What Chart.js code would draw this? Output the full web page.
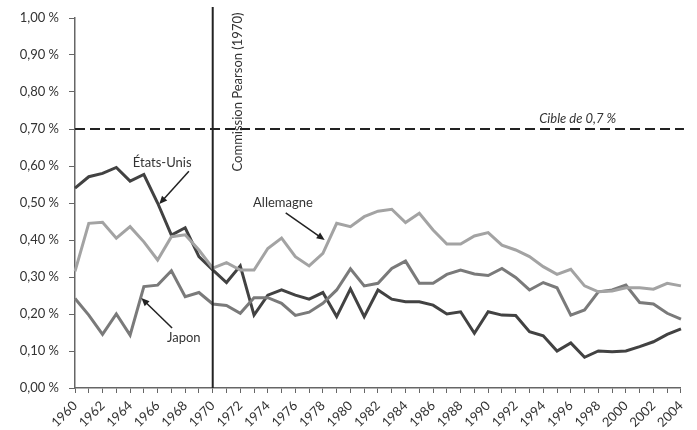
<!DOCTYPE html>
<html><head><meta charset="utf-8">
<script src="https://cdn.jsdelivr.net/npm/chart.js@4/dist/chart.umd.min.js"></script>
<style>html,body{margin:0;padding:0;background:#fff}#wrap{width:697px;height:430px}</style>
</head><body><div id="wrap"><canvas id="c" width="697" height="430"></canvas></div>
<script>
const years = ['1960','1961','1962','1963','1964','1965','1966','1967','1968','1969',
  '1970','1971','1972','1973','1974','1975','1976','1977','1978','1979',
  '1980','1981','1982','1983','1984','1985','1986','1987','1988','1989',
  '1990','1991','1992','1993','1994','1995','1996','1997','1998','1999',
  '2000','2001','2002','2003','2004'];
const etatsUnis = [0.540,0.571,0.580,0.596,0.559,0.577,0.500,0.413,0.433,0.355,
  0.319,0.285,0.330,0.197,0.251,0.265,0.251,0.240,0.258,0.193,
  0.268,0.193,0.265,0.240,0.233,0.233,0.224,0.200,0.206,0.148,
  0.206,0.197,0.196,0.152,0.141,0.100,0.122,0.083,0.100,0.098,
  0.100,0.112,0.125,0.145,0.160];
const allemagne = [0.315,0.445,0.448,0.405,0.436,0.395,0.346,0.409,0.414,0.373,
  0.324,0.339,0.319,0.319,0.377,0.405,0.355,0.330,0.364,0.445,
  0.436,0.463,0.478,0.483,0.447,0.472,0.427,0.389,0.389,0.411,
  0.420,0.386,0.373,0.355,0.328,0.307,0.321,0.276,0.260,0.262,
  0.271,0.271,0.267,0.283,0.276];
const japon = [0.242,0.197,0.145,0.200,0.143,0.274,0.278,0.317,0.247,0.258,
  0.227,0.223,0.202,0.244,0.244,0.229,0.196,0.205,0.229,0.265,
  0.322,0.276,0.283,0.323,0.343,0.283,0.283,0.307,0.319,0.308,
  0.304,0.323,0.299,0.265,0.285,0.271,0.197,0.211,0.260,0.265,
  0.278,0.231,0.227,0.202,0.186];
const yTickValues = [0,0.1,0.2,0.3,0.4,0.5,0.6,0.7,0.8,0.9,1.0];
const targetLevel = 0.7;
const targetLabel = 'Cible de 0,7 %';
const pearsonYear = '1970';
const pearsonLabel = 'Commission Pearson (1970)';
const seriesNames = ['États-Unis','Allemagne','Japon'];

const FONT = 'Lato, "Open Sans", sans-serif';

function arrow(ctx, x1, y1, x2, y2) {
  const a = Math.atan2(y2 - y1, x2 - x1), L = 8, W = 3.5;
  ctx.beginPath(); ctx.moveTo(x1, y1);
  ctx.lineTo(x2 - L * 0.6 * Math.cos(a), y2 - L * 0.6 * Math.sin(a)); ctx.stroke();
  ctx.beginPath(); ctx.moveTo(x2, y2);
  ctx.lineTo(x2 - L * Math.cos(a) + W * Math.sin(a), y2 - L * Math.sin(a) - W * Math.cos(a));
  ctx.lineTo(x2 - L * Math.cos(a) - W * Math.sin(a), y2 - L * Math.sin(a) + W * Math.cos(a));
  ctx.closePath(); ctx.fill();
}

const annot = {
  id: 'annot',
  afterDatasetsDraw(chart) {
    const ctx = chart.ctx, xs = chart.scales.x, ys = chart.scales.y, ca = chart.chartArea;
    const X = v => xs.getPixelForValue(v), Y = v => ys.getPixelForValue(v);
    ctx.save();
    ctx.strokeStyle = '#222'; ctx.lineWidth = 2; ctx.setLineDash([10, 5]);
    ctx.beginPath(); ctx.moveTo(ca.left, Y(targetLevel)); ctx.lineTo(ca.right + 3, Y(targetLevel)); ctx.stroke();
    ctx.setLineDash([]);
    const px = X(years.indexOf(pearsonYear));
    ctx.strokeStyle = '#222'; ctx.lineWidth = 2;
    ctx.beginPath(); ctx.moveTo(px, ca.top - 11); ctx.lineTo(px, ca.bottom); ctx.stroke();
    ctx.fillStyle = '#333';
    ctx.font = 'italic 13px ' + FONT; ctx.textAlign = 'center'; ctx.textBaseline = 'middle';
    ctx.fillText(targetLabel, X(36.5), Y(0.728));
    ctx.save();
    ctx.translate(X(11.8), Y(0.80)); ctx.rotate(-Math.PI / 2);
    ctx.font = '13px ' + FONT; ctx.fillText(pearsonLabel, 0, 0);
    ctx.restore();
    ctx.font = '13px ' + FONT;
    ctx.fillText(seriesNames[0], X(6.33), Y(0.608));
    ctx.fillText(seriesNames[1], X(15.1), Y(0.50));
    ctx.fillText(seriesNames[2], X(7.9), Y(0.135));
    ctx.strokeStyle = '#222'; ctx.fillStyle = '#222'; ctx.lineWidth = 1.5;
    arrow(ctx, X(8.27), Y(0.586), X(6.12), Y(0.497));
    arrow(ctx, X(15.3), Y(0.473), X(18.13), Y(0.40));
    arrow(ctx, X(7.05), Y(0.162), X(4.82), Y(0.243));
    ctx.restore();
  }
};

const mk = (label, data, color) => ({
  label, data, borderColor: color, backgroundColor: color, borderWidth: 3,
  pointRadius: 0, tension: 0, fill: false
});

new Chart(document.getElementById('c'), {
  type: 'line',
  data: {
    labels: years,
    datasets: [
      mk(seriesNames[1], allemagne, '#a3a3a3'),
      mk(seriesNames[2], japon, '#7a7a7a'),
      mk(seriesNames[0], etatsUnis, '#424242')
    ]
  },
  options: {
    responsive: false, animation: false, devicePixelRatio: 1,
    layout: { padding: { top: 18, right: 10, left: 0, bottom: 0 } },
    plugins: { legend: { display: false }, tooltip: { enabled: false } },
    scales: {
      x: {
        type: 'category', offset: false,
        border: { color: '#666', width: 1.5 },
        grid: { drawOnChartArea: false, tickLength: 5, color: '#666', tickColor: '#666' },
        ticks: {
          autoSkip: false, minRotation: 45, maxRotation: 45, padding: 5,
          color: '#333', font: { family: FONT, size: 13 },
          callback: function (v, i) { return (parseInt(years[i]) % 2 === 0) ? years[i] : ''; }
        },
        afterFit: s => { s.height = 42; }
      },
      y: {
        min: 0, max: 1,
        afterBuildTicks: s => { s.ticks = yTickValues.map(v => ({ value: v })); },
        border: { color: '#666', width: 1.5 },
        grid: { drawOnChartArea: false, tickLength: 6, tickColor: '#666' },
        ticks: {
          padding: 10, color: '#333', font: { family: FONT, size: 13 },
          callback: v => v.toFixed(2).replace('.', ',') + ' %'
        },
        afterFit: s => { s.width = 75; }
      }
    }
  },
  plugins: [annot]
});
</script>
</body></html>
